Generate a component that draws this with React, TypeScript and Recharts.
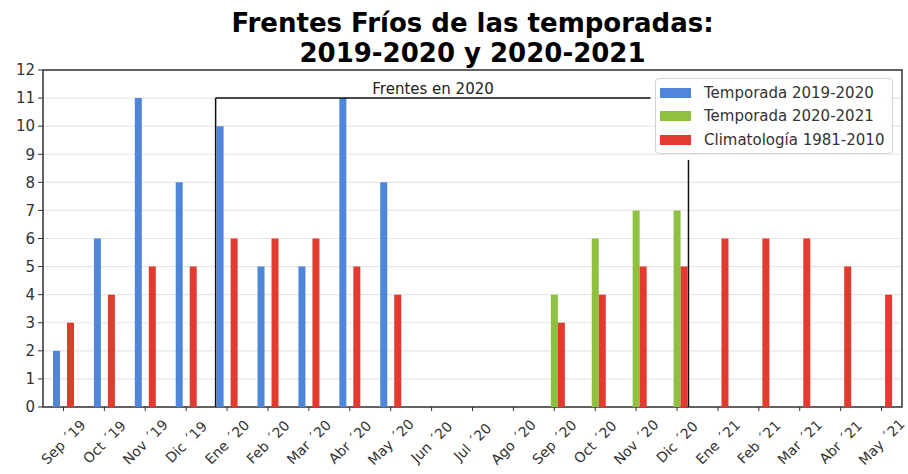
import React from 'react';
import { BarChart, Bar, XAxis, YAxis, CartesianGrid, ReferenceLine, ReferenceArea, Legend } from 'recharts';

// Months on the x axis
const months = [
  "Sep ´19", "Oct ´19", "Nov ´19", "Dic ´19", "Ene ´20", "Feb ´20", "Mar ´20",
  "Abr ´20", "May ´20", "Jun ´20", "Jul ´20", "Ago ´20", "Sep ´20", "Oct ´20",
  "Nov ´20", "Dic ´20", "Ene ´21", "Feb ´21", "Mar ´21", "Abr ´21", "May ´21",
];

// Fronts per month
const season1920 = [2, 6, 11, 8, 10, 5, 5, 11, 8, null, null, null, null, null, null, null, null, null, null, null, null];
const season2021 = [null, null, null, null, null, null, null, null, null, null, null, null, 4, 6, 7, 7, null, null, null, null, null];
const climatology = [3, 4, 5, 5, 6, 6, 6, 5, 4, null, null, null, 3, 4, 5, 5, 6, 6, 6, 5, 4];

const yTicks = [0, 1, 2, 3, 4, 5, 6, 7, 8, 9, 10, 11, 12];

// "Frentes en 2020" bracket, in data units (x = month index, y = count)
const bracketLeft = 3.72;
const bracketTopEnd = 14.35;
const bracketRight = 15.28;
const bracketTop = 11;
const bracketRightTop = 8.8;

const series = [
  { key: 't1920', name: 'Temporada 2019-2020', color: '#4f86da' },
  { key: 't2021', name: 'Temporada 2020-2021', color: '#8dc13f' },
  { key: 'clim', name: 'Climatología 1981-2010', color: '#e23a2f' },
];

const data = months.map((m, i) => ({
  x: i,
  t1920: season1920[i],
  t2021: season2021[i],
  clim: climatology[i],
}));

const FONT = '"DejaVu Sans", sans-serif';

const MonthTick = (props: any) => {
  const { x, payload } = props;
  const cy = 442;
  return (
    <text
      x={x}
      y={cy}
      transform={`rotate(-45, ${x}, ${cy})`}
      textAnchor="middle"
      dominantBaseline="central"
      fontSize={14}
      fontFamily={FONT}
      fill="#333"
    >
      {months[payload.value]}
    </text>
  );
};

const LegendBox = () => (
  <div
    style={{
      width: 238,
      height: 76,
      boxSizing: 'border-box',
      border: '1px solid #d4d4d4',
      borderRadius: 4,
      background: 'rgba(255,255,255,0.9)',
      paddingTop: 2,
      fontFamily: FONT,
      fontSize: 15,
      color: '#333',
    }}
  >
    {series.map((s) => (
      <div key={s.key} style={{ display: 'flex', alignItems: 'center', height: 23.5 }}>
        <span style={{ width: 31, height: 10, background: s.color, marginLeft: 4, marginRight: 13 }} />
        <span>{s.name}</span>
      </div>
    ))}
  </div>
);

const App: React.FC = () => {
  return (
    <div style={{ position: 'relative', width: 908, height: 474, background: '#fff' }}>
      <style>{`body{margin:0}`}</style>
      <div
        style={{
          position: 'absolute',
          top: 8,
          left: 43,
          width: 859,
          textAlign: 'center',
          fontFamily: FONT,
          fontWeight: 'bold',
          fontSize: 26,
          lineHeight: '30px',
          color: '#000',
          zIndex: 2,
        }}
      >
        Frentes Fríos de las temporadas:
        <br />
        2019-2020 y 2020-2021
      </div>
      <BarChart
        width={908}
        height={474}
        data={data}
        margin={{ top: 70, right: 6, bottom: 0, left: 0 }}
        barSize={7}
        barGap={0}
      >
        <CartesianGrid vertical={false} stroke="#e6e6e6" strokeWidth={1.2} />
        <XAxis
          type="number"
          dataKey="x"
          domain={[-0.5, 20.5]}
          ticks={months.map((_, i) => i)}
          interval={0}
          allowDataOverflow
          height={67}
          axisLine={false}
          tickLine={{ stroke: '#333' }}
          tickSize={4}
          tick={<MonthTick />}
        />
        <YAxis
          domain={[0, 12]}
          ticks={yTicks}
          interval={0}
          width={43}
          axisLine={false}
          tickLine={{ stroke: '#333' }}
          tickSize={5}
          tickMargin={3}
          tick={{ fontSize: 15, fontFamily: FONT, fill: '#333' }}
        />
        {series.map((s) => (
          <Bar key={s.key} dataKey={s.key} name={s.name} fill={s.color} isAnimationActive={false} />
        ))}
        <ReferenceArea x1={-0.5} x2={20.5} y1={0} y2={12} fill="none" stroke="#333" strokeWidth={1.5} />
        <ReferenceLine
          segment={[{ x: bracketLeft, y: 0 }, { x: bracketLeft, y: bracketTop }]}
          stroke="#111"
          strokeWidth={1.5}
        />
        <ReferenceLine
          segment={[{ x: bracketLeft, y: bracketTop }, { x: bracketTopEnd, y: bracketTop }]}
          stroke="#111"
          strokeWidth={1.5}
          label={{ value: 'Frentes en 2020', position: 'top', offset: 4, fontSize: 15, fontFamily: FONT, fill: '#222' }}
        />
        <ReferenceLine
          segment={[{ x: bracketRight, y: 0 }, { x: bracketRight, y: bracketRightTop }]}
          stroke="#111"
          strokeWidth={1.5}
        />
        <Legend
          layout="vertical"
          align="center"
          verticalAlign="middle"
          content={<LegendBox />}
          wrapperStyle={{ position: 'absolute', top: 78, left: 655, width: 238, height: 76 }}
        />
      </BarChart>
    </div>
  );
};

export default App;
